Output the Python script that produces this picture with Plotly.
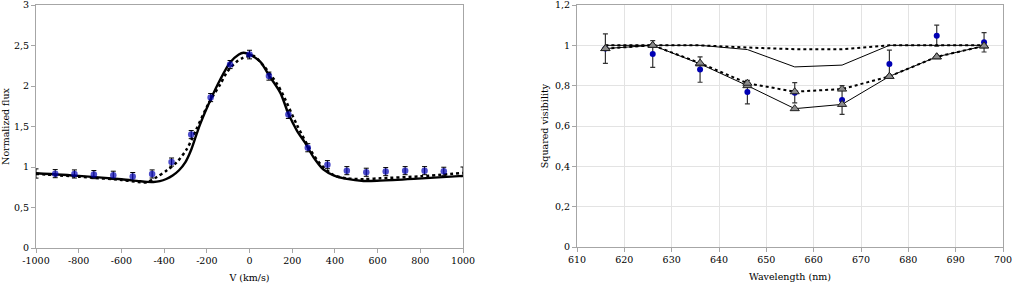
import plotly.graph_objects as go

# ---------------- Left panel: line profile ----------------
obs_v = [-1000, -910, -820, -729, -638, -547, -456, -365, -273, -182, -91, 0,
         91, 182, 273, 365, 456, 547, 638, 729, 820, 910, 1000]
obs_flux = [0.92, 0.918, 0.914, 0.906, 0.898, 0.882, 0.914, 1.061, 1.40, 1.857, 2.265, 2.388,
            2.122, 1.649, 1.238, 1.029, 0.955, 0.935, 0.943, 0.955, 0.955, 0.947, 0.94]
obs_flux_err = [0.057, 0.05, 0.05, 0.05, 0.05, 0.05, 0.05, 0.05, 0.05, 0.05, 0.05, 0.053,
                0.05, 0.05, 0.05, 0.05, 0.05, 0.05, 0.05, 0.05, 0.05, 0.05, 0.06]

model1_v = [-1000, -800, -600, -520, -480, -450, -420, -390, -360, -330, -300, -275, -255, -231,
            -181, -137, -91, -50, -28, 0, 50, 94, 144, 183, 222, 260, 300, 347, 394, 456,
            534, 612, 769, 1000]
model1_flux = [0.922, 0.89, 0.849, 0.826, 0.816, 0.815, 0.826, 0.852, 0.895, 0.96, 1.06, 1.20, 1.35, 1.53,
               1.84, 2.08, 2.29, 2.39, 2.41, 2.39, 2.30, 2.12, 1.918, 1.653, 1.449, 1.30, 1.12,
               0.967, 0.897, 0.853, 0.828, 0.832, 0.853, 0.89]

model2_v = [-1000, -800, -600, -520, -480, -434, -387, -340, -293, -250, -200, -168, -137, -106,
            -60, -31, 0, 20, 66, 128, 159, 222, 283, 331, 394, 456, 534, 612, 800, 1000]
model2_flux = [0.915, 0.88, 0.84, 0.815, 0.812, 0.877, 0.959, 1.06, 1.224, 1.46, 1.74, 1.89, 2.02,
               2.17, 2.30, 2.346, 2.37, 2.37, 2.25, 2.03, 1.88, 1.52, 1.22, 1.04, 0.90, 0.86,
               0.85, 0.86, 0.885, 0.927]

flux_ticks = [0, 0.5, 1, 1.5, 2, 2.5, 3]
flux_tick_text = ["0", "0,5", "1", "1,5", "2", "2,5", "3"]
v_ticks = [-1000, -800, -600, -400, -200, 0, 200, 400, 600, 800, 1000]
v_tick_text = [str(t) for t in v_ticks]

# ---------------- Right panel: visibilities ----------------
wl = [616, 626, 636, 646, 656, 666, 676, 686, 696]
vis_obs = [0.984, 0.957, 0.880, 0.768, 0.765, 0.729, 0.907, 1.048, 1.015]
vis_err = [0.073, 0.066, 0.063, 0.058, 0.05, 0.071, 0.069, 0.052, 0.048]
vis_model_a = [1.0, 1.0, 1.0, 0.979, 0.893, 0.902, 1.0, 1.0, 1.0]
vis_model_b = [1.0, 1.0, 1.0, 0.989, 0.981, 0.981, 1.0, 1.0, 1.0]
vis_model_c = [0.984, 1.0, 0.908, 0.80, 0.686, 0.707, 0.846, 0.943, 0.997]
vis_model_d = [0.984, 1.0, 0.912, 0.812, 0.770, 0.783, 0.846, 0.943, 0.997]

vis_ticks = [0, 0.2, 0.4, 0.6, 0.8, 1.0, 1.2]
vis_tick_text = ["0", "0,2", "0,4", "0,6", "0,8", "1", "1,2"]
wl_ticks = list(range(610, 701, 10))
wl_tick_text = [str(t) for t in wl_ticks]

FONT = "DejaVu Serif"
BLUE = "#0000b4"
W, H = 1013, 285

fig = go.Figure()

# left panel traces
fig.add_trace(go.Scatter(
    x=model2_v, y=model2_flux, mode="lines",
    line=dict(color="black", width=2.5, dash="dot", shape="spline", smoothing=0.8),
    xaxis="x", yaxis="y", hoverinfo="skip"))
fig.add_trace(go.Scatter(
    x=model1_v, y=model1_flux, mode="lines",
    line=dict(color="black", width=2.4, shape="spline", smoothing=0.8),
    xaxis="x", yaxis="y", hoverinfo="skip"))
sizes = [0] + [6.5] * (len(obs_v) - 2) + [0]
fig.add_trace(go.Scatter(
    x=obs_v, y=obs_flux, mode="markers",
    marker=dict(color=BLUE, size=sizes, line=dict(width=0)),
    error_y=dict(type="data", array=obs_flux_err, color="black", thickness=1, width=2.5),
    xaxis="x", yaxis="y", cliponaxis=False))

# right panel traces
fig.add_trace(go.Scatter(
    x=wl, y=vis_obs, mode="markers",
    marker=dict(color=BLUE, size=6, line=dict(width=0)),
    error_y=dict(type="data", array=vis_err, color="#333333", thickness=1.2, width=2.5),
    xaxis="x2", yaxis="y2"))
fig.add_trace(go.Scatter(
    x=wl, y=vis_model_a, mode="lines", line=dict(color="black", width=1),
    xaxis="x2", yaxis="y2"))
fig.add_trace(go.Scatter(
    x=wl, y=vis_model_b, mode="lines", line=dict(color="black", width=2, dash="dot"),
    xaxis="x2", yaxis="y2"))
fig.add_trace(go.Scatter(
    x=wl, y=vis_model_c, mode="lines+markers", line=dict(color="black", width=1),
    marker=dict(symbol="triangle-up", size=8, color="#8c8c8c", line=dict(color="#222222", width=1)),
    xaxis="x2", yaxis="y2"))
fig.add_trace(go.Scatter(
    x=wl, y=vis_model_d, mode="lines+markers", line=dict(color="black", width=2, dash="dot"),
    marker=dict(symbol="triangle-up", size=8, color="#8c8c8c", line=dict(color="#222222", width=1)),
    xaxis="x2", yaxis="y2"))

axis_common = dict(
    showline=True, linecolor="#a6a6a6", linewidth=1, mirror=True,
    ticks="outside", ticklen=4, tickcolor="#a6a6a6",
    tickfont=dict(family=FONT, size=9.5, color="black"),
    zeroline=False, automargin=False, ticklabeloverflow="allow",
)

fig.update_layout(
    width=W, height=H,
    margin=dict(l=0, r=0, t=0, b=0),
    paper_bgcolor="white", plot_bgcolor="white",
    showlegend=False,
    font=dict(family=FONT, size=9.5, color="black"),
    xaxis=dict(domain=[36 / W, 463 / W], range=[-1000, 1000], tickvals=v_ticks, ticktext=v_tick_text,
               showgrid=False, anchor="y",
               title=dict(text="V (km/s)", font=dict(family=FONT, size=9.5), standoff=8), **axis_common),
    yaxis=dict(domain=[(H - 248) / H, (H - 5) / H], range=[0, 3], tickvals=flux_ticks, ticktext=flux_tick_text,
               showgrid=False, anchor="x",
               title=dict(text="Normalized flux", font=dict(family=FONT, size=9.5), standoff=4), **axis_common),
    xaxis2=dict(domain=[577 / W, 1003 / W], range=[610, 700], tickvals=wl_ticks, ticktext=wl_tick_text,
                showgrid=True, gridcolor="#e3e3e3", gridwidth=1, anchor="y2",
                title=dict(text="Wavelength (nm)", font=dict(family=FONT, size=9.5), standoff=8), **axis_common),
    yaxis2=dict(domain=[(H - 247) / H, (H - 5) / H], range=[0, 1.2], tickvals=vis_ticks, ticktext=vis_tick_text,
                showgrid=True, gridcolor="#e3e3e3", gridwidth=1, anchor="x2",
                title=dict(text="Squared visibility", font=dict(family=FONT, size=9.5), standoff=4), **axis_common),
)

fig.write_html("out.html", config={"displayModeBar": False},
               post_script="document.body.style.margin='0';document.body.style.overflow='hidden';")
